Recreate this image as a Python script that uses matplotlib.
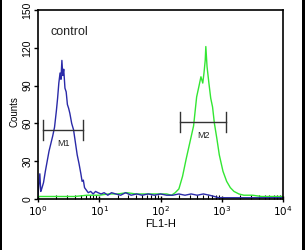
import matplotlib
matplotlib.use("Agg")
import matplotlib.pyplot as plt
import numpy as np
from matplotlib.patches import Rectangle

# Blue (control) histogram: log10(FL1-H) positions and counts
blue_logx = [0.00, 0.015, 0.03, 0.045, 0.06, 0.09, 0.12, 0.15, 0.18, 0.21, 0.24, 0.27,
             0.30, 0.32, 0.34, 0.36, 0.375, 0.39, 0.405, 0.42, 0.44, 0.46, 0.48, 0.50,
             0.52, 0.55, 0.58, 0.61, 0.64, 0.67, 0.70, 0.72, 0.74, 0.76, 0.79, 0.82,
             0.86, 0.90, 0.94, 0.98, 1.03, 1.08, 1.14, 1.20, 1.27, 1.35, 1.43, 1.52,
             1.61, 1.70, 1.80, 1.90, 2.00, 2.10, 2.20, 2.30, 2.40, 2.50, 2.60, 2.70,
             2.80, 2.88, 2.95, 3.10, 3.30, 3.50, 3.70, 3.90, 4.00]
blue_counts = [3, 12, 20, 6, 8, 13, 22, 30, 38, 44, 50, 57,
               70, 80, 92, 100, 95, 110, 98, 103, 88, 85, 75, 72,
               68, 60, 55, 45, 35, 28, 20, 14, 15, 9, 7, 5,
               6, 4, 6, 5, 4, 5, 3, 5, 4, 3, 5, 3,
               4, 3, 4, 3, 4, 3, 3, 4, 3, 4, 3, 4,
               3, 2, 1, 1, 1, 1, 1, 1, 1]

# Green (antibody) histogram
green_logx = [0.00, 0.20, 0.40, 0.60, 0.80, 1.00, 1.15, 1.30, 1.45, 1.60, 1.75, 1.90,
              2.00, 2.10, 2.18, 2.24, 2.30, 2.36, 2.42, 2.48, 2.54, 2.59, 2.63, 2.66,
              2.69, 2.71, 2.73, 2.74, 2.76, 2.79, 2.82, 2.85, 2.88, 2.92, 2.96, 3.02,
              3.08, 3.14, 3.20, 3.28, 3.36, 3.50, 3.65, 3.80, 4.00]
green_counts = [2, 2, 2, 2, 3, 3, 4, 4, 5, 4, 4, 4,
                4, 4, 3, 5, 8, 18, 32, 45, 58, 81, 90, 97,
                92, 100, 110, 121, 105, 92, 80, 73, 60, 48, 35, 22,
                14, 9, 6, 4, 3, 3, 2, 2, 2]

# Markers: (name, left, right, height)
marker_names = ["M1", "M2"]
marker_left = [1.2, 212]
marker_right = [5.5, 1170]
marker_level = [55, 61]

xticks = [1, 10, 100, 1000, 10000]
xtick_labels = [r"$10^0$", r"$10^1$", r"$10^2$", r"$10^3$", r"$10^4$"]
yticks = [0, 30, 60, 90, 120, 150]

fig = plt.figure(figsize=(3.06, 2.50), dpi=100)
fig.patch.set_facecolor("white")
ax = fig.add_axes([38/306, 51/250, 245/306, 189/250])

ax.plot(np.power(10.0, green_logx), green_counts, color="#33e633", lw=1.0)
ax.plot(np.power(10.0, blue_logx), blue_counts, color="#2a2aa8", lw=1.0)

for name, l, r, h in zip(marker_names, marker_left, marker_right, marker_level):
    ax.plot([l, r], [h, h], color="#333333", lw=1.0)
    ax.plot([l, l], [h - 8, h + 8], color="#333333", lw=1.0)
    ax.plot([r, r], [h - 8, h + 8], color="#333333", lw=1.0)
    ax.text(np.sqrt(l * r), h - 7, name, ha="center", va="top", fontsize=6.5,
            color="#222222", family="Liberation Sans")

ax.set_xscale("log")
ax.set_xlim(1, 10000)
ax.set_ylim(0, 150)
ax.set_xticks(xticks)
ax.set_xticklabels(xtick_labels)
ax.set_yticks(yticks)
ax.set_yticklabels([str(v) for v in yticks], rotation=90, va="center")
ax.tick_params(axis="x", which="major", direction="inout", length=5, width=1,
               labelsize=7.5, pad=1)
ax.tick_params(axis="x", which="minor", direction="in", length=3, width=0.8)
ax.tick_params(axis="y", which="major", direction="out", length=3, width=1,
               labelsize=7.5, pad=1)
for lab in ax.get_xticklabels() + ax.get_yticklabels():
    lab.set_family("Liberation Sans")
for s in ax.spines.values():
    s.set_linewidth(1.2)
    s.set_color("black")

ax.set_xlabel("FL1-H", fontsize=8, family="Liberation Sans", labelpad=1)
ax.set_ylabel("Counts", fontsize=7, family="Liberation Sans", labelpad=1)
ax.yaxis.set_label_coords(-0.075, 0.46)
ax.text(0.05, 0.87, "control", transform=ax.transAxes, fontsize=9,
        family="Liberation Sans", color="#222222")

# side borders of the original image
fig.add_artist(Rectangle((0, 0), 2/306, 1, transform=fig.transFigure,
                         facecolor="black", edgecolor="none"))
fig.add_artist(Rectangle((302/306, 0), 3/306, 1, transform=fig.transFigure,
                         facecolor="black", edgecolor="none"))

fig.savefig("out.png", dpi=100)
